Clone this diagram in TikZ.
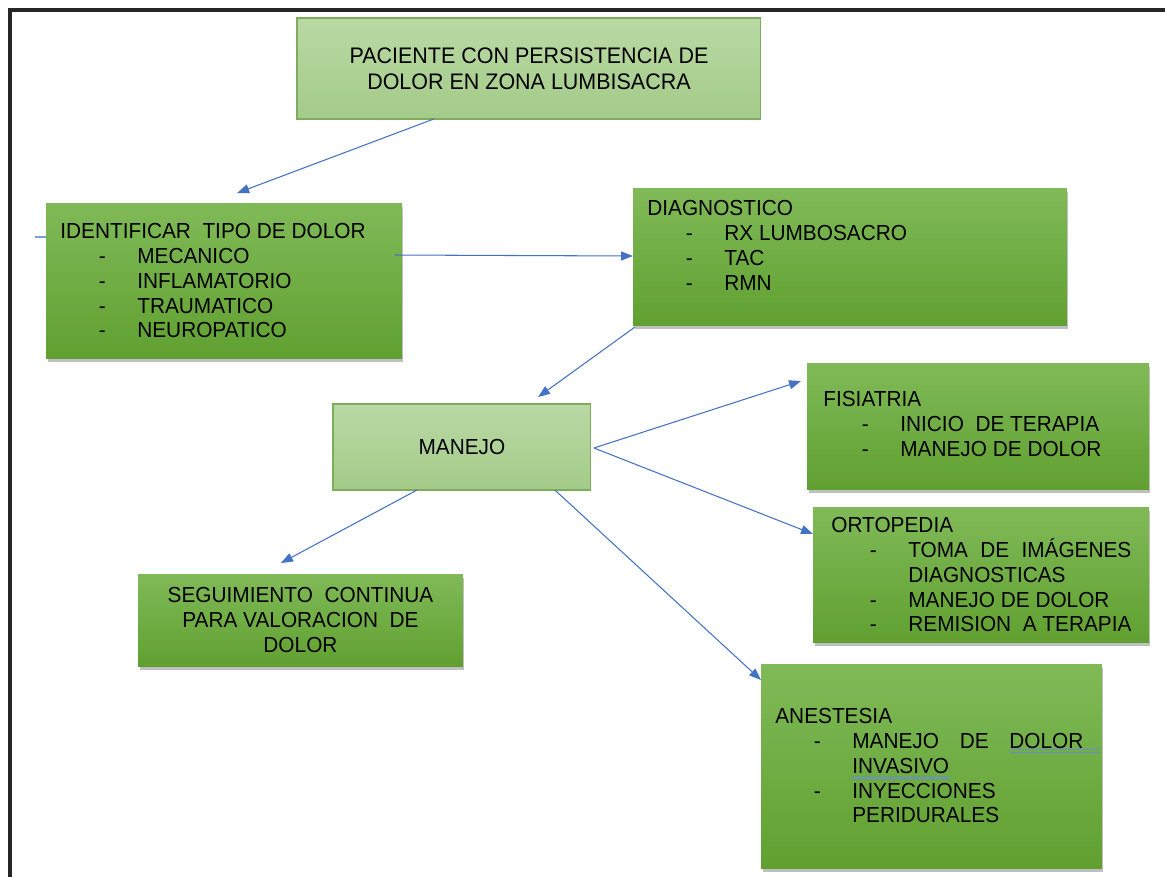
\documentclass[tikz,border=0pt]{standalone}
\usepackage{fontspec}
\setmainfont{Liberation Sans}[FakeStretch=0.955]
\usetikzlibrary{arrows.meta,calc,shadows}

\newlength{\pxu}
\setlength{\pxu}{0.02cm}
% list entry with a dash, and a continued line
\newcommand{\li}[1]{\hspace*{38.5\pxu}\makebox[38.5\pxu][l]{-}#1}
\newcommand{\lc}[1]{\hspace*{77\pxu}#1}

\definecolor{gtop}{RGB}{128,186,88}
\definecolor{gbot}{RGB}{96,160,48}
\definecolor{ltop}{RGB}{186,217,165}
\definecolor{lbot}{RGB}{163,203,136}
\definecolor{lline}{RGB}{125,172,92}
\definecolor{linkblue}{RGB}{68,114,196}

\tikzset{
  darkbox/.style={anchor=north west, inner sep=0pt, outer sep=0pt, top color=gtop, bottom color=gbot,
    drop shadow={shadow xshift=0.03cm, shadow yshift=-0.07cm, fill=black, opacity=0.25}},
  lightbox/.style={anchor=north west, inner sep=0pt, outer sep=0pt, top color=ltop, bottom color=lbot,
    draw=lline, line width=0.6pt, align=center},
  boxtext/.style={anchor=north west, inner sep=0pt, align=left, font=\fontsize{12.4}{14.1}\selectfont},
  link/.style={draw=linkblue, line width=0.6pt, -{Triangle[length=0.24cm,width=0.18cm]}},
  spell/.style={draw=linkblue!80, line width=0.35pt}
}

\begin{document}
\begin{tikzpicture}[x=0.02cm, y=-0.02cm]
%%%%% START %%%%%
\useasboundingbox (0,0) rectangle (1165,877);
\fill[white] (0,0) rectangle (1165,877);
\draw[line width=0.065cm, black!85] (10,877) -- (10,10) -- (1165,10);

\node[lightbox, minimum width=9.28cm, minimum height=2.02cm, font=\fontsize{12.8}{14.8}\selectfont] (pac) at (297,18)
  {PACIENTE CON PERSISTENCIA DE\\DOLOR EN ZONA LUMBISACRA};

\node[darkbox, minimum width=7.12cm, minimum height=3.12cm] (idf) at (46,203) {};
\node[boxtext] (idftxt) at (60,223.3) {IDENTIFICAR\ \ TIPO DE DOLOR\\
  \li{MECANICO}\\
  \li{INFLAMATORIO}\\
  \li{TRAUMATICO}\\
  \li{NEUROPATICO}};

\node[darkbox, minimum width=8.68cm, minimum height=2.76cm] (diag) at (633,188) {};
\node[boxtext] (diagtxt) at (647,200.3) {DIAGNOSTICO\\
  \li{RX LUMBOSACRO}\\
  \li{TAC}\\
  \li{RMN}};

\node[lightbox, minimum width=5.16cm, minimum height=1.72cm, font=\fontsize{12.4}{14.1}\selectfont] (man) at (333,404) {MANEJO};

\node[darkbox, minimum width=6.84cm, minimum height=2.54cm] (fis) at (807,363) {};
\node[boxtext] (fistxt) at (823,391.3) {FISIATRIA\\
  \li{INICIO\ \ DE TERAPIA}\\
  \li{MANEJO DE DOLOR}};

\node[darkbox, minimum width=6.72cm, minimum height=2.72cm] (orto) at (813,507) {};
\node[boxtext] (ortotxt) at (831,517.3) {ORTOPEDIA\\
  \li{\makebox[223\pxu][s]{TOMA DE IMÁGENES}}\\
  \lc{DIAGNOSTICAS}\\
  \li{MANEJO DE DOLOR}\\
  \li{REMISION\ \ A TERAPIA}};

\node[darkbox, minimum width=6.5cm, minimum height=1.84cm, align=center, font=\fontsize{12.4}{14.1}\selectfont] (seg) at (138,574)
  {SEGUIMIENTO\ \ CONTINUA\\PARA VALORACION\ \ DE\\DOLOR};

\node[darkbox, minimum width=6.82cm, minimum height=4.1cm] (anes) at (761,664) {};
\node[boxtext] (anestxt) at (775,708.3) {ANESTESIA\\
  \li{\makebox[231\pxu][s]{MANEJO DE DOLOR}}\\
  \lc{INVASIVO}\\
  \li{INYECCIONES}\\
  \lc{PERIDURALES}};

% spell check marks
\draw[spell] (1010,749.5) -- (1100,749.5);
\draw[spell] (1010,752) -- (1100,752);
\draw[spell] (852,776.5) -- (950,776.5);
\draw[spell] (852,779) -- (950,779);

% connectors
\coordinate (stub) at (35,237);
\draw[linkblue!70, line width=0.6pt] (stub) -- ($(idf.north west)+(0,34)$);
\draw[link] ($(pac.south west)!0.295!(pac.south east)$) -- ($(idf.north west)!0.537!(idf.north east)+(0,-10)$);
\draw[link] ($(idf.north east)+(-7,52)$) -- ($(diag.north west)+(0,68)$);
\draw[link] ($(diag.south west)+(2,1)$) -- ($(man.north west)!0.795!(man.north east)+(0,-7)$);
\draw[link] ($(man.east)+(3,1)$) -- ($(fis.north west)+(-6,18)$);
\draw[link] ($(man.east)+(3,1)$) -- ($(orto.north west)+(0,27)$);
\draw[link] ($(man.south west)!0.86!(man.south east)$) -- ($(anes.north west)+(0,16)$);
\draw[link] ($(man.south west)!0.326!(man.south east)$) -- ($(seg.north west)!0.44!(seg.north east)+(0,-11)$);
%%%%% END %%%%%
\end{tikzpicture}
\end{document}
